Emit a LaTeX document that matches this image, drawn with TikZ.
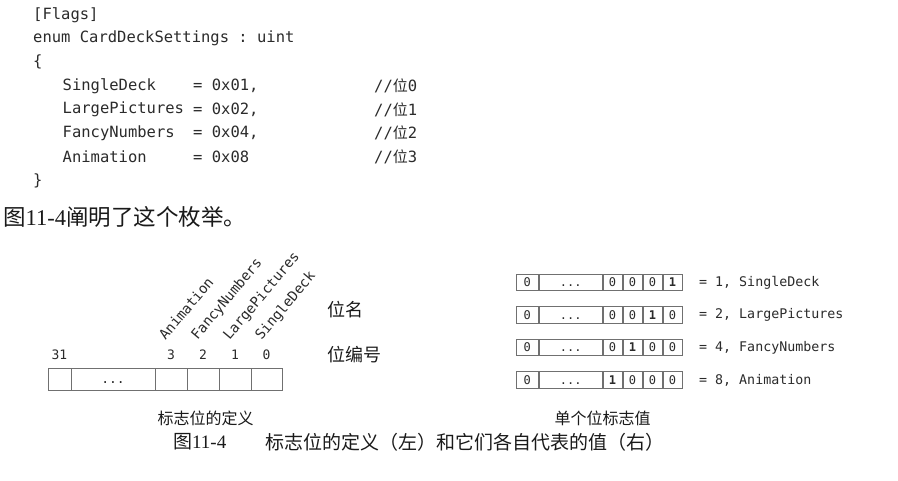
\documentclass[tikz,border=0pt]{standalone}
\usepackage{fontspec}
\setmainfont{Liberation Serif}
\setmonofont{DejaVu Sans Mono}
\newfontfamily\cjk{Noto Sans CJK SC}
\usetikzlibrary{positioning}
\definecolor{inkgray}{HTML}{2B2B2B}
\definecolor{rulegray}{HTML}{707070}
\definecolor{darktext}{HTML}{1A1A1A}

\tikzset{
  codeline/.style={anchor=west, inner sep=0pt, text=inkgray, font=\fontsize{15.5}{18}\selectfont\ttfamily},
  cjktext/.style={inner sep=0pt, text=darktext, font=\fontsize{#1}{#1}\selectfont\cjk},
  bitcell/.style={draw=rulegray, line width=0.9pt, minimum height=22pt, minimum width=#1, inner sep=0pt, outer sep=0pt, text=inkgray, font=\fontsize{13}{13}\selectfont\ttfamily},
  flagcell/.style={draw=rulegray, line width=0.75pt, minimum height=16.5pt, minimum width=#1, inner sep=0pt, outer sep=0pt, text=inkgray, font=\fontsize{12}{12}\selectfont\ttfamily},
  bitnum/.style={inner sep=0pt, text=inkgray, font=\fontsize{13}{13}\selectfont\ttfamily},
  bitname/.style={anchor=base west, rotate=50, inner sep=0pt, text=inkgray, font=\fontsize{14}{14}\selectfont\ttfamily},
  flagval/.style={anchor=west, inner sep=0pt, text=inkgray, font=\fontsize{13.3}{14}\selectfont\ttfamily}
}

\newcommand{\wei}{{\cjk\fontsize{15}{15}\selectfont 位}}
\newcommand{\celldots}{\vphantom{0}...}

\begin{document}
\begin{tikzpicture}[x=1pt,y=-1pt]
\useasboundingbox[fill=white] (0,0) rectangle (898,481);

% the enum source
\node[codeline] (flags) at (33,15) {[Flags]};
\node[codeline] (enumhead) at (33,38) {enum CardDeckSettings : uint};
\node[codeline] (openbrace) at (33,62) {\{};
\node[codeline] (nsingle) at (62.5,86) {SingleDeck};
\node[codeline] (vsingle) at (193,86) {= 0x01,};
\node[codeline] (csingle) at (374,86) {//\wei 0};
\node[codeline] (nlarge) at (62.5,109.5) {LargePictures};
\node[codeline] (vlarge) at (193,109.5) {= 0x02,};
\node[codeline] (clarge) at (374,109.5) {//\wei 1};
\node[codeline] (nfancy) at (62.5,133) {FancyNumbers};
\node[codeline] (vfancy) at (193,133) {= 0x04,};
\node[codeline] (cfancy) at (374,133) {//\wei 2};
\node[codeline] (nanim) at (62.5,157) {Animation};
\node[codeline] (vanim) at (193,157) {= 0x08};
\node[codeline] (canim) at (374,157) {//\wei 3};
\node[codeline] (closebrace) at (33,181) {\}};
\node[cjktext=22.5, anchor=west] (intro) at (3,217) {图{\rmfamily 11-4}阐明了这个枚举。};

% left: the bit positions
\node[bitcell=23pt, anchor=west] (b31) at (48,379) {};
\node[bitcell=84pt, right=0pt of b31] (bdots) {\celldots};
\node[bitcell=32pt, right=0pt of bdots] (b3) {};
\node[bitcell=32pt, right=0pt of b3] (b2) {};
\node[bitcell=32pt, right=0pt of b2] (b1) {};
\node[bitcell=31pt, right=0pt of b1] (b0) {};
\node[bitnum, above=8pt of b31] (n31) {31};
\node[bitnum, above=8pt of b3] (n3) {3};
\node[bitnum, above=8pt of b2] (n2) {2};
\node[bitnum, above=8pt of b1] (n1) {1};
\node[bitnum, above=8pt of b0] (n0) {0};
\node[bitname] (lanim) at (165.5,341) {Animation};
\node[bitname] (lfancy) at (197.5,341) {FancyNumbers};
\node[bitname] (llarge) at (229.5,341) {LargePictures};
\node[bitname] (lsingle) at (261.5,341) {SingleDeck};
\node[cjktext=18, anchor=west] (bitnamelbl) at (327,310) {位名};
\node[cjktext=18, anchor=west] (bitnumlbl) at (327,355) {位编号};
\node[cjktext=16] (deflbl) at (205.5,418) {标志位的定义};

% right: one value per flag
\node[flagcell=22.5pt, anchor=west] (ra31) at (516,282.5) {0};
\node[flagcell=62.5pt, right=1pt of ra31] (radots) {\celldots};
\node[flagcell=19pt, right=1pt of radots] (ra3) {0};
\node[flagcell=19pt, right=1pt of ra3] (ra2) {0};
\node[flagcell=19pt, right=1pt of ra2] (ra1) {0};
\node[flagcell=19pt, right=1pt of ra1] (ra0) {\bfseries 1};
\node[flagval, right=17pt of ra0] (vala) {= 1, SingleDeck};

\node[flagcell=22.5pt, anchor=west] (rb31) at (516,315) {0};
\node[flagcell=62.5pt, right=1pt of rb31] (rbdots) {\celldots};
\node[flagcell=19pt, right=1pt of rbdots] (rb3) {0};
\node[flagcell=19pt, right=1pt of rb3] (rb2) {0};
\node[flagcell=19pt, right=1pt of rb2] (rb1) {\bfseries 1};
\node[flagcell=19pt, right=1pt of rb1] (rb0) {0};
\node[flagval, right=17pt of rb0] (valb) {= 2, LargePictures};

\node[flagcell=22.5pt, anchor=west] (rc31) at (516,347.5) {0};
\node[flagcell=62.5pt, right=1pt of rc31] (rcdots) {\celldots};
\node[flagcell=19pt, right=1pt of rcdots] (rc3) {0};
\node[flagcell=19pt, right=1pt of rc3] (rc2) {\bfseries 1};
\node[flagcell=19pt, right=1pt of rc2] (rc1) {0};
\node[flagcell=19pt, right=1pt of rc1] (rc0) {0};
\node[flagval, right=17pt of rc0] (valc) {= 4, FancyNumbers};

\node[flagcell=22.5pt, anchor=west] (rd31) at (516,380) {0};
\node[flagcell=62.5pt, right=1pt of rd31] (rddots) {\celldots};
\node[flagcell=19pt, right=1pt of rddots] (rd3) {\bfseries 1};
\node[flagcell=19pt, right=1pt of rd3] (rd2) {0};
\node[flagcell=19pt, right=1pt of rd2] (rd1) {0};
\node[flagcell=19pt, right=1pt of rd1] (rd0) {0};
\node[flagval, right=17pt of rd0] (vald) {= 8, Animation};
\node[cjktext=16] (vallbl) at (602.5,418) {单个位标志值};

% caption
\node[cjktext=19, anchor=west] (capnum) at (173,442) {图{\rmfamily 11-4}};
\node[cjktext=19, anchor=west] (captext) at (265,442) {标志位的定义（左）和它们各自代表的值（右）};
\end{tikzpicture}
\end{document}
